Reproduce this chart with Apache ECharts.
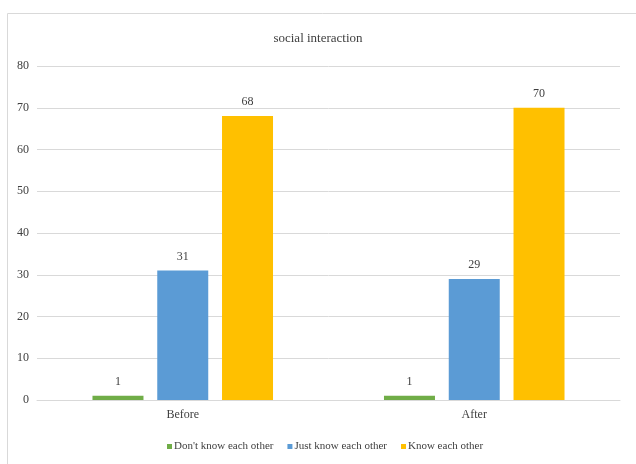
<!DOCTYPE html>
<html>
<head>
<meta charset="utf-8">
<script src="https://cdn.jsdelivr.net/npm/echarts@6/dist/echarts.min.js"></script>
<style>html,body{margin:0;padding:0;background:#fff}#c{width:636px;height:464px}</style>
</head>
<body>
<div id="c"></div>
<script>
const categories = ['Before', 'After'];
const seriesNames = ["Don't know each other", 'Just know each other', 'Know each other'];
const dontKnow = [1, 1];
const justKnow = [31, 29];
const knowEach = [68, 70];
const yTicks = { min: 0, max: 80, interval: 10 };

const colors = ['#70AD47', '#5B9BD5', '#FFC000'];
const font = '"Liberation Serif", "Times New Roman", serif';

function bar(name, data, color) {
  return {
    name, type: 'bar', data, barWidth: 51, barGap: '27%', barCategoryGap: '37%',
    itemStyle: { color },
    label: { show: true, position: 'top', distance: 8, color: '#404040', fontFamily: font, fontSize: 12 }
  };
}

const chart = echarts.init(document.getElementById('c'));
chart.setOption({
  animation: false,
  graphic: [{ type: 'rect', shape: { x: 7.5, y: 13.5, width: 660, height: 480 }, style: { fill: 'none', stroke: '#D9D9D9', lineWidth: 1 }, silent: true }],
  title: { text: 'social interaction', left: 'center', top: 27, textStyle: { fontFamily: font, fontSize: 13, fontWeight: 'normal', color: '#404040' } },
  legend: {
    top: 436, left: 162, itemWidth: 5, itemHeight: 5, itemGap: 14, icon: 'rect',
    textStyle: { fontFamily: font, fontSize: 11, color: '#404040', padding: [0, 0, 0, -3] },
    data: seriesNames
  },
  grid: { left: 37, right: 16, top: 66, bottom: 64 },
  xAxis: {
    type: 'category', data: categories,
    axisLine: { lineStyle: { color: '#D9D9D9' } }, axisTick: { show: false },
    axisLabel: { fontFamily: font, fontSize: 12, color: '#404040', margin: 9 }
  },
  yAxis: {
    type: 'value', min: yTicks.min, max: yTicks.max, interval: yTicks.interval,
    axisLine: { show: false }, axisTick: { show: false },
    splitLine: { lineStyle: { color: '#D9D9D9' } },
    axisLabel: { fontFamily: font, fontSize: 12, color: '#404040', margin: 8 }
  },
  series: [bar(seriesNames[0], dontKnow, colors[0]), bar(seriesNames[1], justKnow, colors[1]), bar(seriesNames[2], knowEach, colors[2])]
});
</script>
</body>
</html>
